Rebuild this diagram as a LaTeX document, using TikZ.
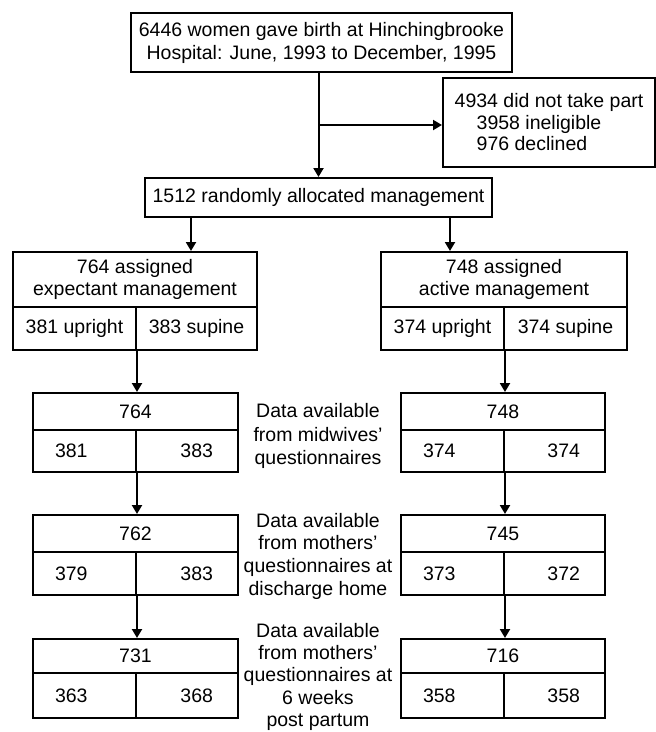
\documentclass[tikz,border=0pt]{standalone}
\usepackage{fontspec}
\setmainfont{Liberation Sans}
\usetikzlibrary{arrows.meta}
\begin{document}
\begin{tikzpicture}[x=1pt,y=-1pt,
  txt/.style={font=\fontsize{19.5}{23}\selectfont, align=center, inner sep=0pt},
  box/.style={txt, draw, line width=2pt},
  lcell/.style={box, align=left, inner xsep=22pt, text width=#1},
  rcell/.style={box, align=right, inner xsep=25pt, text width=#1},
  arr/.style={line width=2pt, -{Triangle[width=10pt,length=9pt]}}
]
\useasboundingbox (0,0) rectangle (656,732);
\fill[white] (0,0) rectangle (656,732);

% top
\node[box, minimum width=381, minimum height=59] (birth) at (321.5,42.5)
  {6446 women gave birth at Hinchingbrooke\\Hospital: June, 1993 to December, 1995};
\node[box, align=left, anchor=west, minimum width=212, minimum height=89,
      font=\fontsize{19.5}{21.5}\selectfont] (out) at (442,122.5)
  {4934 did not take part\\\hspace*{22pt}3958 ineligible\\\hspace*{22pt}976 declined};
\node[box, minimum width=347, minimum height=39] (rand) at (318.5,197.5)
  {1512 randomly allocated management};

% assigned boxes
\node[box, minimum width=244, minimum height=55, font=\fontsize{19.5}{22}\selectfont] (eh) at (135,279.5)
  {764 assigned\\expectant management};
\node[box, minimum width=123, minimum height=43] (eL) at (74.5,328.5) {381 upright};
\node[box, minimum width=121, minimum height=43] (eR) at (196.5,328.5) {383 supine};

\node[box, minimum width=246, minimum height=55, font=\fontsize{19.5}{22}\selectfont] (ah) at (504,279.5)
  {748 assigned\\active management};
\node[box, minimum width=123, minimum height=43] (aL) at (442.5,328.5) {374 upright};
\node[box, minimum width=123, minimum height=43] (aR) at (565.5,328.5) {374 supine};

% midwives
\node[box, minimum width=205, minimum height=37] (m1h) at (135.5,411.5) {764};
\node[lcell=59, minimum height=42] (m1L) at (84.5,451) {381};
\node[rcell=52, minimum height=42] (m1R) at (187,451) {383};
\node[box, minimum width=204, minimum height=37] (m2h) at (503,411.5) {748};
\node[lcell=59, minimum height=42] (m2L) at (452.5,451) {374};
\node[rcell=51, minimum height=42] (m2R) at (554.5,451) {374};

% discharge
\node[box, minimum width=205, minimum height=37] (d1h) at (135.5,533.5) {762};
\node[lcell=59, minimum height=43] (d1L) at (84.5,573.5) {379};
\node[rcell=52, minimum height=43] (d1R) at (187,573.5) {383};
\node[box, minimum width=204, minimum height=37] (d2h) at (503,533.5) {745};
\node[lcell=59, minimum height=43] (d2L) at (452.5,573.5) {373};
\node[rcell=51, minimum height=43] (d2R) at (554.5,573.5) {372};

% 6 weeks
\node[box, minimum width=205, minimum height=34] (w1h) at (135.5,656) {731};
\node[lcell=59, minimum height=45] (w1L) at (84.5,695.5) {363};
\node[rcell=52, minimum height=45] (w1R) at (187,695.5) {368};
\node[box, minimum width=204, minimum height=34] (w2h) at (503,656) {716};
\node[lcell=59, minimum height=45] (w2L) at (452.5,695.5) {358};
\node[rcell=51, minimum height=45] (w2R) at (554.5,695.5) {358};

% labels
\node[txt, font=\fontsize{19.5}{23.5}\selectfont] (lab1) at (318,436)
  {Data available\\from midwives'\\questionnaires};
\node[txt, font=\fontsize{19.5}{22.7}\selectfont] (lab2) at (318,556)
  {Data available\\from mothers'\\questionnaires at\\discharge home};
\node[txt, font=\fontsize{19.5}{22.4}\selectfont, anchor=south] (lab3) at (318,731)
  {Data available\\from mothers'\\questionnaires at\\6 weeks\\post partum};

% connectors
\draw[arr] (rand.north |- birth.south) -- (rand.north);
\coordinate (br) at (rand.north |- 0,125);
\draw[arr] (br) -- (br -| out.west);
\draw[arr] ([xshift=47pt]rand.south west) -- ([xshift=47pt]rand.south west |- eh.north);
\draw[arr] ([xshift=-43pt]rand.south east) -- ([xshift=-43pt]rand.south east |- ah.north);
\draw[arr] (eL.south east) -- (eL.south east |- m1h.north);
\draw[arr] (aL.south east) -- (aL.south east |- m2h.north);
\draw[arr] (m1L.south east) -- (m1L.south east |- d1h.north);
\draw[arr] (m2L.south east) -- (m2L.south east |- d2h.north);
\draw[arr] (d1L.south east) -- (d1L.south east |- w1h.north);
\draw[arr] (d2L.south east) -- (d2L.south east |- w2h.north);
\end{tikzpicture}
\end{document}
